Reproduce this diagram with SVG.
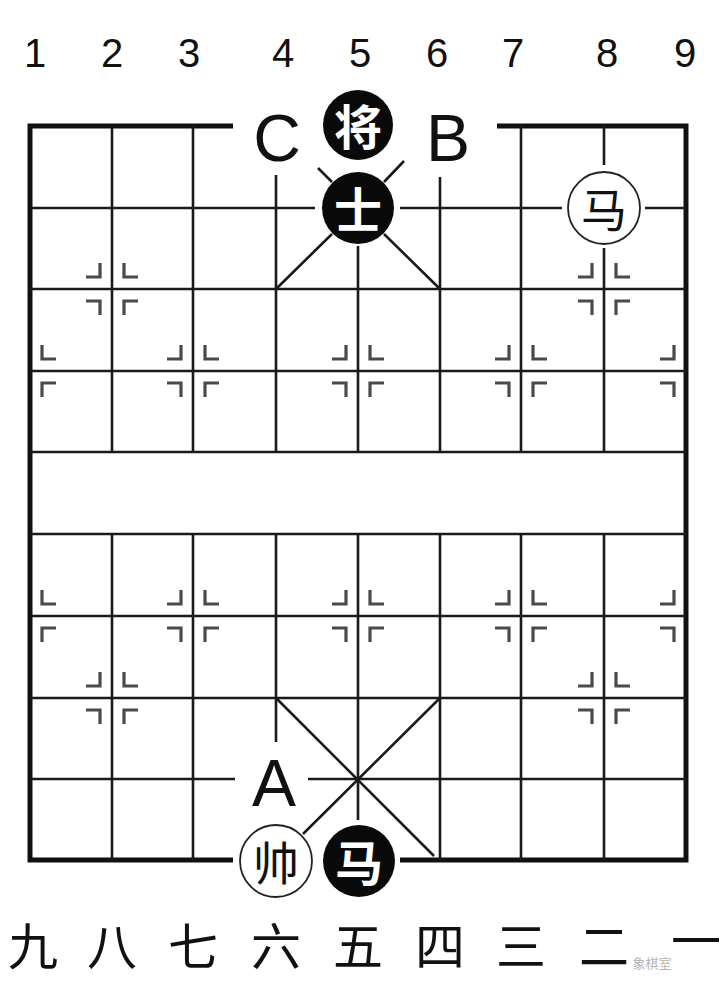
<svg xmlns="http://www.w3.org/2000/svg" width="720" height="985" viewBox="0 0 720 985">
<style>
.g{stroke:#1a1a1a;stroke-width:2.6;fill:none}
.b{stroke:#111;stroke-width:5;fill:none}
.m{stroke:#4a4a4a;stroke-width:3.2;fill:none}
.num{font-family:"Liberation Sans",Arial,sans-serif;font-size:40px;fill:#111;text-anchor:middle}
.cn{font-family:"Noto Sans CJK SC","Noto Sans CJK JP",sans-serif;font-size:50px;fill:#111;text-anchor:middle;dominant-baseline:central}
.lbl{font-family:"Liberation Sans",Arial,sans-serif;font-size:66px;fill:#111;text-anchor:middle}
.pw{fill:#fff;stroke:#222;stroke-width:1.8}
.pb{fill:#0a0a0a}
.tw{font-family:"Noto Sans CJK SC",sans-serif;font-size:46px;fill:#111;text-anchor:middle;dominant-baseline:central}
.tb{font-family:"Noto Sans CJK SC",sans-serif;font-size:48px;font-weight:bold;fill:#fff;text-anchor:middle;dominant-baseline:central}
</style>
<defs>
<g id="mk">
<path class="m" d="M-12,-26V-12H-26M12,-26V-12H26M-12,26V12H-26M12,26V12H26"/>
</g>
<g id="mkL">
<path class="m" d="M12,-26V-12H26M12,26V12H26"/>
</g>
<g id="mkR">
<path class="m" d="M-12,-26V-12H-26M-12,26V12H-26"/>
</g>
</defs>
<rect width="720" height="985" fill="#fff"/>
<g id="file-numbers">
<text class="num" x="35" y="67">1</text>
<text class="num" x="112" y="67">2</text>
<text class="num" x="189" y="67">3</text>
<text class="num" x="283" y="67">4</text>
<text class="num" x="360" y="67">5</text>
<text class="num" x="437" y="67">6</text>
<text class="num" x="513" y="67">7</text>
<text class="num" x="607" y="67">8</text>
<text class="num" x="685" y="67">9</text>
</g>
<g id="connectors">
<path class="b" d="M233,126H30V860H233M400,860H686V126H497"/>
<path class="g" d="M30,208H315M400,208H562M645,208H686"/>
<path class="g" d="M30,289H686"/>
<path class="g" d="M30,371H686"/>
<path class="g" d="M30,452H686"/>
<path class="g" d="M30,534H686"/>
<path class="g" d="M30,616H686"/>
<path class="g" d="M30,698H686"/>
<path class="g" d="M30,779H235M308,779H686"/>
<path class="g" d="M112,126V452M193,126V452M276,175V452M358,246V452M440,177V452M521,126V452M604,126V165M604,248V452"/>
<path class="g" d="M112,534V860M193,534V860M276,534V742M358,534V820M440,534V860M521,534V860M604,534V860"/>
<path class="g" d="M276,289L332,234M384,182L404,161M440,289L384,234M332,182L318,168"/>
<path class="g" d="M276,698L434,856M440,698L303,834"/>
<use href="#mk" x="112" y="289"/>
<use href="#mk" x="604" y="289"/>
<use href="#mkL" x="30" y="371"/>
<use href="#mk" x="193" y="371"/>
<use href="#mk" x="358" y="371"/>
<use href="#mk" x="521" y="371"/>
<use href="#mkR" x="686" y="371"/>
<use href="#mkL" x="30" y="616"/>
<use href="#mk" x="193" y="616"/>
<use href="#mk" x="358" y="616"/>
<use href="#mk" x="521" y="616"/>
<use href="#mkR" x="686" y="616"/>
<use href="#mk" x="112" y="698"/>
<use href="#mk" x="604" y="698"/>
</g>
<g id="label-C"><text class="lbl" x="277" y="161">C</text></g>
<g id="label-B"><text class="lbl" x="448" y="161">B</text></g>
<g id="label-A"><text class="lbl" x="274" y="806">A</text></g>
<g id="piece-jiang"><circle class="pb" cx="358" cy="125" r="35"/><text class="tb" x="358" y="124">将</text></g>
<g id="piece-shi"><circle class="pb" cx="358" cy="208" r="36"/><text class="tb" x="358" y="207">士</text></g>
<g id="piece-ma-red"><circle class="pw" cx="604" cy="208" r="36"/><text class="tw" x="604" y="207">马</text></g>
<g id="piece-shuai"><circle class="pw" cx="276" cy="861" r="36"/><text class="tw" x="276" y="860">帅</text></g>
<g id="piece-ma-black"><circle class="pb" cx="359" cy="861" r="36"/><text class="tb" x="359" y="860">马</text></g>
<g id="file-numerals">
<text class="cn" x="33" y="943">九</text>
<text class="cn" x="112" y="943">八</text>
<text class="cn" x="193" y="943">七</text>
<text class="cn" x="276" y="943">六</text>
<text class="cn" x="358" y="943">五</text>
<text class="cn" x="440" y="943">四</text>
<text class="cn" x="521" y="943">三</text>
<text class="cn" x="604" y="943">二</text>
<text class="cn" x="696" y="938" font-size="32">一</text>
</g>
<g id="watermark"><text x="652" y="968" font-family="Noto Sans CJK SC,sans-serif" font-size="13" fill="#b5b5b5" text-anchor="middle">象棋室</text></g>
</svg>
